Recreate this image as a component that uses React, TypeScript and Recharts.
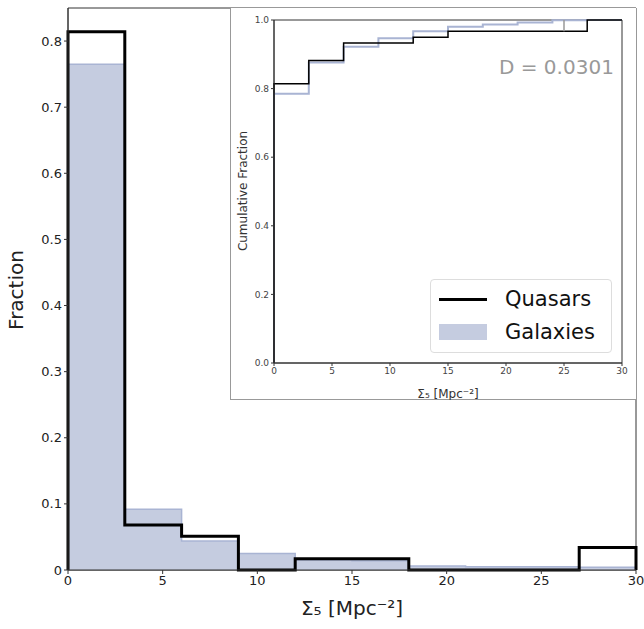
import React from 'react';
import { ComposedChart, Area, Line, XAxis, YAxis, ReferenceArea, ReferenceLine } from 'recharts';

// bin edges (width 3) and per-bin fractions
const binEdges = [0, 3, 6, 9, 12, 15, 18, 21, 24, 27, 30];
const quasarFrac = [0.814, 0.068, 0.051, 0.0, 0.017, 0.017, 0.0, 0.0, 0.0, 0.034];
const galaxyFrac = [0.765, 0.092, 0.044, 0.025, 0.015, 0.014, 0.006, 0.005, 0.005, 0.004];
const quasarCum = [0.814, 0.882, 0.933, 0.933, 0.95, 0.967, 0.967, 0.967, 0.967, 1.0];
const galaxyCum = [0.785, 0.876, 0.922, 0.947, 0.967, 0.98, 0.987, 0.993, 0.999, 1.0];

const mainXTicks = [0, 5, 10, 15, 20, 25, 30];
const mainYTicks = [0, 0.1, 0.2, 0.3, 0.4, 0.5, 0.6, 0.7, 0.8];
const insetYTicks = [0, 0.2, 0.4, 0.6, 0.8, 1.0];

const FONT = 'DejaVu Sans, sans-serif';
const GAL = '#c5cce0';
const GAL_LINE = '#a9b4d3';

// step data: start at zero, repeat last value at right edge, drop back to zero
const histData = [
  { x: 0, q: 0, g: 0 },
  ...binEdges.slice(0, -1).map((e, i) => ({ x: e, q: quasarFrac[i], g: galaxyFrac[i] })),
  { x: 30, q: quasarFrac[9], g: galaxyFrac[9] },
  { x: 30, q: 0, g: 0 },
];
const cumData = [
  { x: 0, q: 0, g: 0 },
  ...binEdges.slice(0, -1).map((e, i) => ({ x: e, q: quasarCum[i], g: galaxyCum[i] })),
  { x: 30, q: quasarCum[9], g: galaxyCum[9] },
];

const App = () => {
  return (
    <div style={{ position: 'fixed', left: 0, top: 0, width: 644, height: 629, fontFamily: FONT, background: '#fff', overflow: 'hidden' }}>
      <ComposedChart width={644} height={629} data={histData} margin={{ top: 8, right: 8, left: 0, bottom: 0 }}>
        <XAxis type="number" dataKey="x" domain={[0, 30]} ticks={mainXTicks} height={59} interval={0}
          tick={{ fontSize: 13, fill: '#222', fontFamily: FONT }} stroke="#333" tickSize={4}
          label={{ value: 'Σ₅ [Mpc⁻²]', position: 'insideBottom', offset: 14, fontSize: 20, fill: '#222', fontFamily: FONT }} />
        <YAxis type="number" domain={[0, 0.85]} ticks={mainYTicks} width={68} interval={0}
          tick={{ fontSize: 13, fill: '#222', fontFamily: FONT }} stroke="#333" tickSize={4} />
        <ReferenceArea x1={0} x2={30} y1={0} y2={0.85} fill="none" stroke="#333" strokeWidth={1} />
        <Area type="stepAfter" dataKey="g" stroke={GAL_LINE} strokeWidth={1.5} fill={GAL} fillOpacity={1} isAnimationActive={false} />
        <Line type="stepAfter" dataKey="q" stroke="#000" strokeWidth={3} dot={false} isAnimationActive={false} />
      </ComposedChart>
      <div style={{ position: 'absolute', left: 16, top: 290, transform: 'translate(-50%, -50%) rotate(-90deg)', fontSize: 20, color: '#222', whiteSpace: 'nowrap' }}>Fraction</div>

      <div style={{ position: 'absolute', left: 230, top: 8, width: 406, height: 392, background: '#fff', borderLeft: '1px solid #999', borderBottom: '1px solid #999', boxSizing: 'border-box' }}>
        <ComposedChart width={406} height={392} data={cumData} margin={{ top: 12, right: 15, left: 0, bottom: 0 }}>
          <XAxis type="number" dataKey="x" domain={[0, 30]} ticks={mainXTicks} height={37}
            tick={{ fontSize: 9, fill: '#444', fontFamily: FONT }} stroke="#333" tickSize={3}
            label={{ value: 'Σ₅ [Mpc⁻²]', position: 'insideBottom', offset: 2, fontSize: 12, fill: '#333', fontFamily: FONT }} />
          <YAxis type="number" domain={[0, 1.0]} ticks={insetYTicks} width={43} interval={0}
            tickFormatter={(v: number) => v.toFixed(1)}
            tick={{ fontSize: 9, fill: '#444', fontFamily: FONT }} stroke="#333" tickSize={3} />
          <ReferenceArea x1={0} x2={30} y1={0} y2={1.0} fill="none" stroke="#333" strokeWidth={1} />
          <Line type="stepAfter" dataKey="g" stroke={GAL_LINE} strokeWidth={2} dot={false} isAnimationActive={false} />
          <Line type="stepAfter" dataKey="q" stroke="#000" strokeWidth={1.5} dot={false} isAnimationActive={false} />
          <ReferenceLine segment={[{ x: 25, y: 0.967 }, { x: 25, y: 1.0 }]} stroke="#999" strokeWidth={1.5} />
        </ComposedChart>
        <div style={{ position: 'absolute', left: 12, top: 183, transform: 'translate(-50%, -50%) rotate(-90deg)', fontSize: 12, color: '#333', whiteSpace: 'nowrap' }}>Cumulative Fraction</div>
        <div style={{ position: 'absolute', left: 268, top: 47, fontSize: 20, color: '#999' }}>D = 0.0301</div>
        <div style={{ position: 'absolute', left: 199, top: 271, width: 182, height: 74, border: '1px solid #ddd', borderRadius: 4, boxSizing: 'border-box', fontSize: 21, color: '#111' }}>
          <div style={{ position: 'absolute', left: 8, top: 7, display: 'flex', alignItems: 'center' }}>
            <div style={{ width: 48, height: 3, background: '#000', marginRight: 18 }} />Quasars
          </div>
          <div style={{ position: 'absolute', left: 8, top: 40, display: 'flex', alignItems: 'center' }}>
            <div style={{ width: 48, height: 16, background: GAL, marginRight: 18 }} />Galaxies
          </div>
        </div>
      </div>
    </div>
  );
};

export default App;
